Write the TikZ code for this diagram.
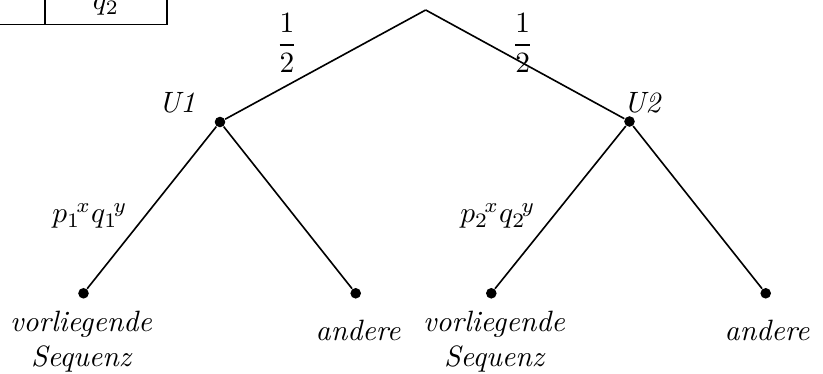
\documentclass[tikz,border=0pt]{standalone}
\usepackage{amsmath}
\begin{document}
\begin{tikzpicture}[x=0.34pt,y=-0.34pt,
  edge/.style={line width=0.55pt},
  dot/.style={circle,fill=black,inner sep=0pt,minimum size=3.6pt},
  lbl/.style={inner sep=0pt,font=\itshape},
  mlbl/.style={inner sep=0pt}]
\useasboundingbox (0,0) rectangle (823,374);
% partial table
\coordinate (t1) at (0,24.7);
\coordinate (t2) at (167.3,24.7);
\coordinate (t3) at (45.3,0);
\coordinate (t4) at (45.3,24.7);
\coordinate (t5) at (167.3,0);
\draw[edge] (t1) -- (t2);
\draw[edge] (t3) -- (t4);
\draw[edge] (t5) -- (t2);
\node[mlbl,anchor=base] (q2) at (106,10) {$q_2$};
% tree
\coordinate (root) at (425.7,10);
\node[dot] (u1) at (220,122) {};
\node[dot] (u2) at (629.5,121.5) {};
\node[dot] (l1) at (83.5,293.3) {};
\node[dot] (l2) at (355.7,293.3) {};
\node[dot] (l3) at (491.3,293.3) {};
\node[dot] (l4) at (765.7,293.3) {};
\draw[edge] (root) -- (u1);
\draw[edge] (root) -- (u2);
\draw[edge] (u1) -- (l1);
\draw[edge] (u1) -- (l2);
\draw[edge] (u2) -- (l3);
\draw[edge] (u2) -- (l4);
% labels
\node[mlbl] (f1) at (287,43) {$\dfrac{1}{2}$};
\node[mlbl] (f2) at (522.7,43) {$\dfrac{1}{2}$};
\node[lbl] (nu1) at (177,103) {U1};
\node[lbl] (nu2) at (642,103) {U2};
\node[mlbl] (e1) at (90,216) {${p_1}^{\!x}{q_1}^{\!y}$};
\node[mlbl] (e2) at (498,216) {${p_2}^{\!x}{q_2}^{\!y}$};
\node[lbl,align=center] (s1) at (81,342) {vorliegende\\Sequenz};
\node[lbl] (a1) at (358,330) {andere};
\node[lbl,align=center] (s2) at (494,342) {vorliegende\\Sequenz};
\node[lbl] (a2) at (767,330) {andere};
\end{tikzpicture}
\end{document}
